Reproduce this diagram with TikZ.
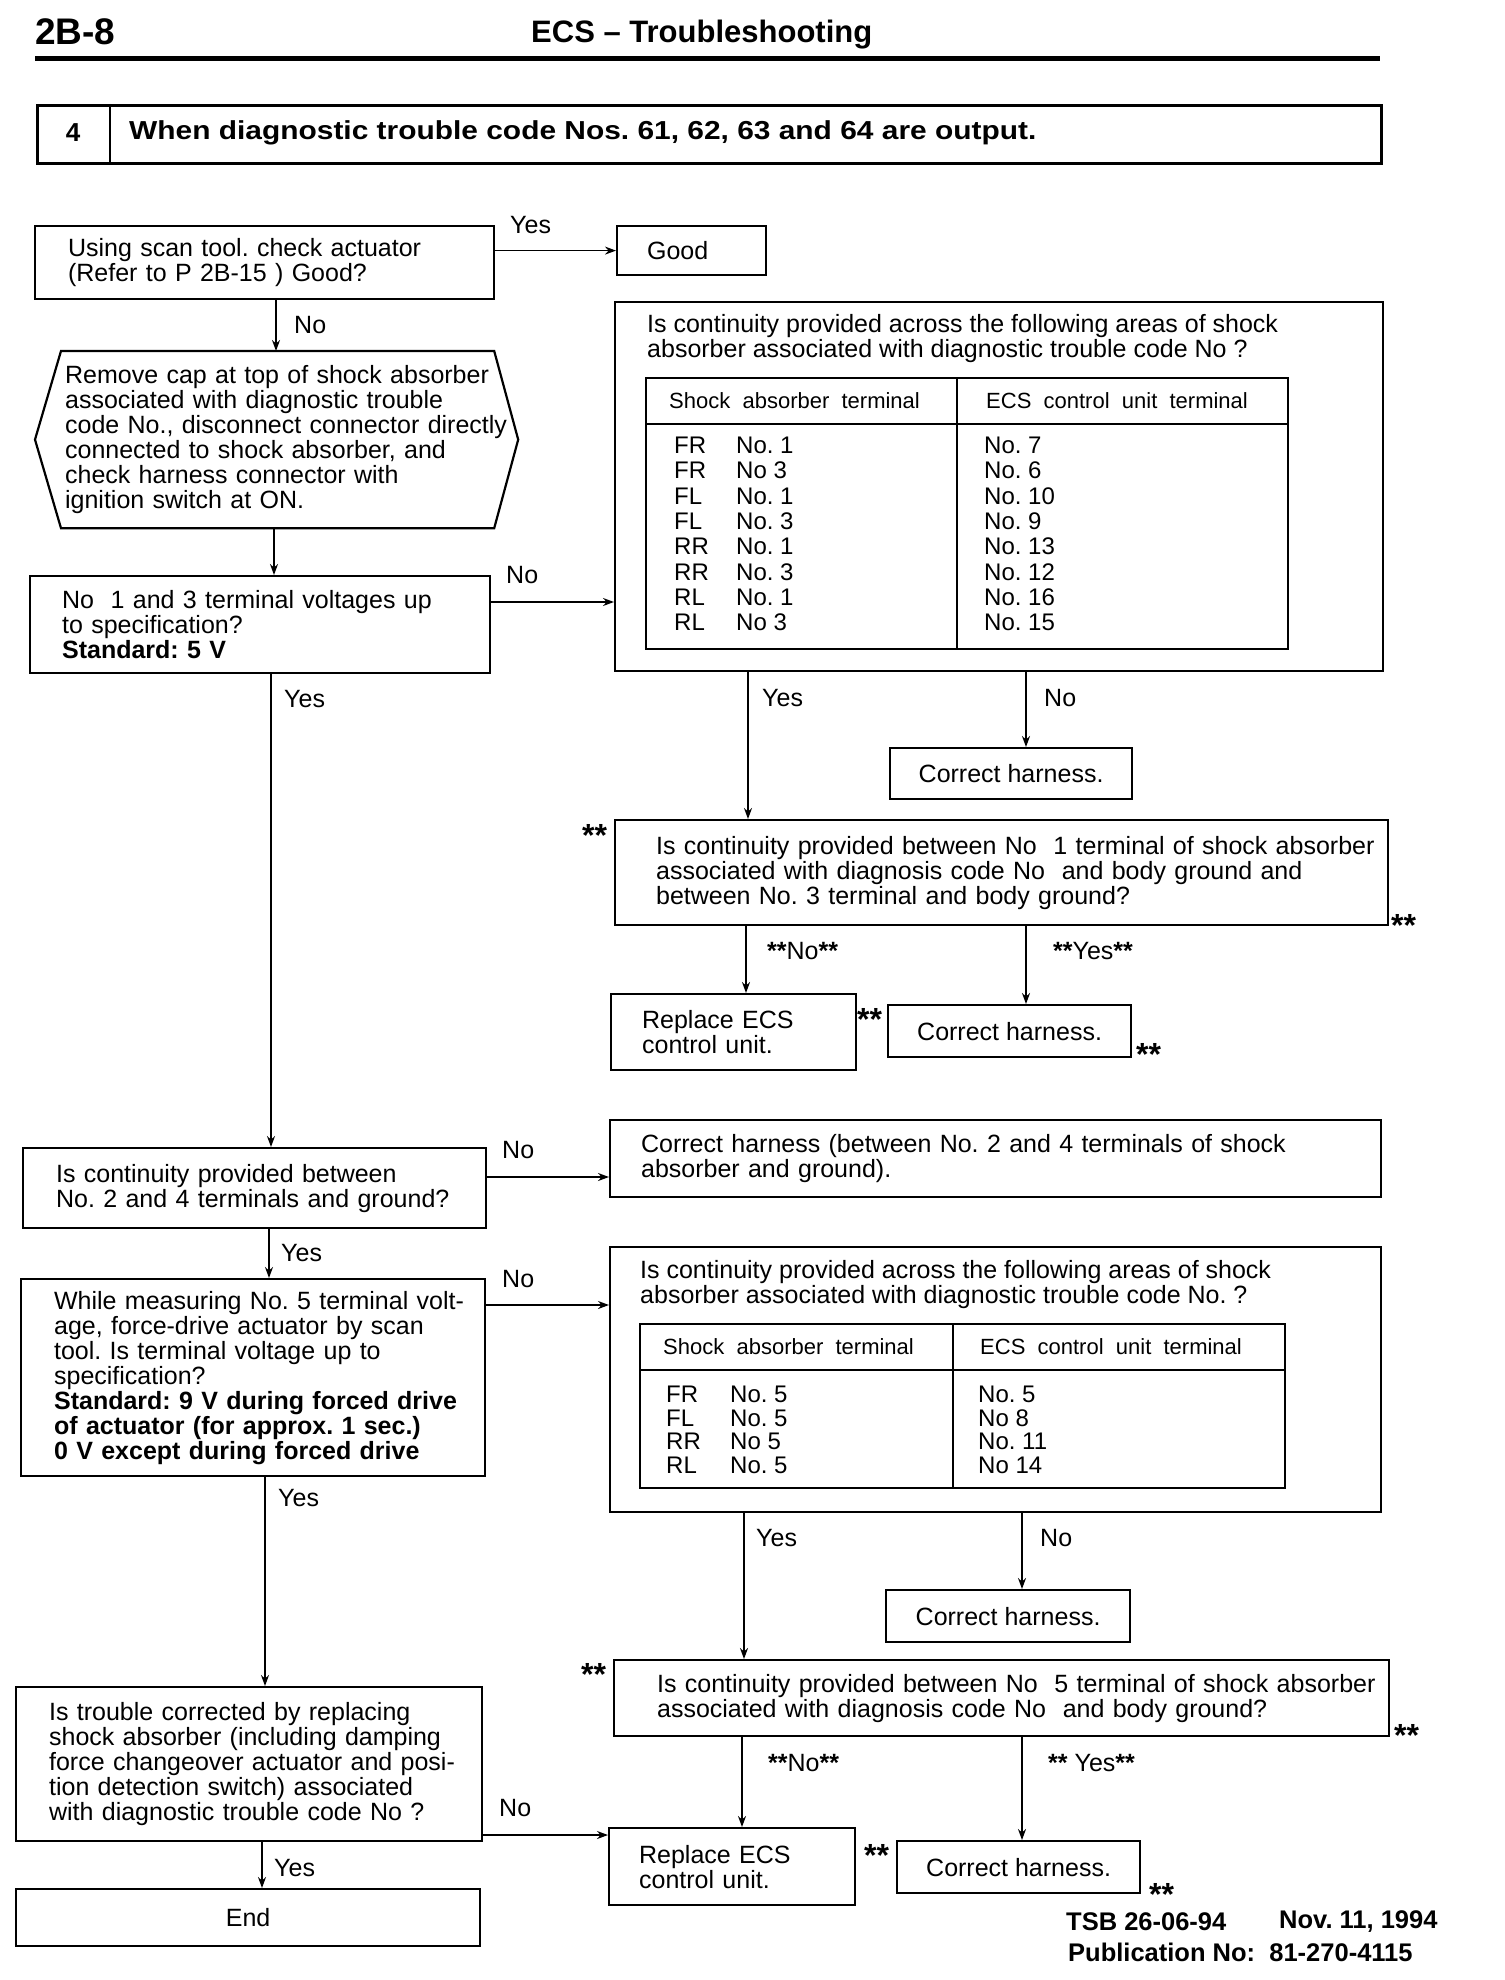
\documentclass[tikz,border=0pt]{standalone}
\usepackage{fontspec}
\setmainfont{Liberation Sans}
\usepackage{graphicx}
\usetikzlibrary{arrows.meta}
\frenchspacing

\newcommand{\bodyfont}{\fontsize{25}{25}\selectfont\lineskiplimit=-50pt\relax}
\newcommand{\colfont}{\fontsize{22}{22}\selectfont}
\newcommand{\rowfont}{\fontsize{24}{25.3}\selectfont}
\newcommand{\rowfontb}{\fontsize{24}{23.3}\selectfont}
\newcommand{\footfont}{\fontsize{25.5}{25.5}\selectfont\bfseries}

\tikzset{
  box/.style={draw, line width=2.2pt, anchor=north west, align=left, inner ysep=0pt, font=\bodyfont},
  cbox/.style={draw, line width=2.2pt, anchor=north west, inner sep=0pt, font=\bodyfont},
  tabframe/.style={draw, line width=2.2pt, anchor=north west, inner sep=0pt},
  tabrule/.style={line width=2.2pt},
  lbl/.style={anchor=west, inner sep=0pt, font=\bodyfont},
  stars/.style={anchor=west, inner sep=0pt, font=\fontsize{32}{32}\selectfont\bfseries},
  arr/.style={->, line width=1.6pt},
  >={Stealth[length=11pt, width=8pt]},
}

\begin{document}
\begin{tikzpicture}[x=1pt, y=-1pt]
\useasboundingbox (0,0) rectangle (1504,1980);

% Page head.
\node[anchor=west, inner sep=0pt, font=\fontsize{37}{37}\selectfont\bfseries] (page) at (35,32) {2B-8};
\node[anchor=west, inner sep=0pt, font=\fontsize{31}{31}\selectfont\bfseries] (title) at (531,35) {ECS – Troubleshooting};
\draw[line width=5pt] (35,59) -- (1380,59);

\node[tabframe, line width=2.8pt, minimum width=1344pt, minimum height=58pt] (task) at (36,104) {};
\draw[line width=2.8pt] (task.north west) ++(74,0) -- ++(0,58);
\node[inner sep=0pt, font=\fontsize{26}{26}\selectfont\bfseries] (tasknum) at (73,133) {4};
\node[anchor=west, inner sep=0pt, font=\fontsize{26}{26}\selectfont\bfseries] (tasktext) at (129,133) {\scalebox{1.15}[1]{When diagnostic trouble code Nos. 61, 62, 63 and 64 are output.}};

% Left column.
\node[box, minimum width=459pt, minimum height=73pt, inner xsep=33pt, text width=393pt] (scan) at (34,225) {Using scan tool. check actuator\\(Refer to P 2B-15 ) Good?};
\node[box, minimum width=149pt, minimum height=49pt, inner xsep=30pt, text width=89pt] (good) at (616,225) {Good};

\node[box, draw=none, minimum width=431pt, minimum height=175pt, inner xsep=3pt, text width=425pt] (remove) at (61,351) {Remove cap at top of shock absorber\\associated with diagnostic trouble\\\mbox{code No., disconnect connector directly}\\connected to shock absorber, and\\check harness connector with\\ignition switch at ON.};
\draw[tabrule] (remove.north west) -- (remove.north east) -- ([xshift=24pt]remove.east) -- (remove.south east) -- (remove.south west) -- ([xshift=-26pt]remove.west) -- cycle;

\node[box, minimum width=460pt, minimum height=97pt, inner xsep=32pt, text width=396pt] (volt) at (29,575) {No~~1 and 3 terminal voltages up\\to specification?\\\textbf{Standard: 5 V}};

\node[box, minimum width=463pt, minimum height=80pt, inner xsep=33pt, text width=397pt] (earth) at (22,1147) {Is continuity provided between\\\mbox{No. 2 and 4 terminals and ground?}};

\node[box, minimum width=464pt, minimum height=197pt, inner xsep=33pt, text width=398pt] (drive) at (20,1278) {\mbox{While measuring No. 5 terminal volt-}\\age, force-drive actuator by scan\\tool. Is terminal voltage up to\\specification?\\\textbf{\mbox{Standard: 9 V during forced drive}}\\\textbf{of actuator (for approx. 1 sec.)}\\\textbf{0 V except during forced drive}};

\node[box, minimum width=466pt, minimum height=154pt, inner xsep=33pt, text width=400pt] (replace) at (15,1686) {Is trouble corrected by replacing\\shock absorber (including damping\\\mbox{force changeover actuator and posi-}\\tion detection switch) associated\\with diagnostic trouble code No ?};
\node[cbox, minimum width=464pt, minimum height=57pt] (done) at (15,1888) {End};

% First continuity table.
\node[tabframe, minimum width=768pt, minimum height=369pt] (cont) at (614,301) {};
\node[lbl, align=left] (contq) at (647,339) {Is continuity provided across the following areas of shock\\absorber associated with diagnostic trouble code No ?};
\node[tabframe, minimum width=642pt, minimum height=271pt] (taba) at (645,377) {};
\draw[tabrule] (taba.north west) ++(0,47) -- ++(642,0);
\draw[tabrule] (taba.north west) ++(312,0) -- ++(0,271);
\node[anchor=west, inner sep=0pt, font=\colfont] (tabahl) at (669,401) {Shock\ \ absorber\ \ terminal};
\node[anchor=west, inner sep=0pt, font=\colfont] (tabahr) at (986,401) {ECS\ \ control\ \ unit\ \ terminal};
\node[anchor=west, inner sep=0pt, font=\rowfont] (tabal) at (674,537) {\begin{tabular}{@{}p{62pt}@{}l@{}}
FR & No. 1\\ FR & No 3\\ FL & No. 1\\ FL & No. 3\\ RR & No. 1\\ RR & No. 3\\ RL & No. 1\\ RL & No 3
\end{tabular}};
\node[anchor=west, inner sep=0pt, font=\rowfont] (tabar) at (984,537) {\begin{tabular}{@{}l@{}}
No. 7\\ No. 6\\ No. 10\\ No. 9\\ No. 13\\ No. 12\\ No. 16\\ No. 15
\end{tabular}};

\node[cbox, minimum width=242pt, minimum height=51pt] (harna) at (889,747) {Correct harness.};
\node[box, minimum width=773pt, minimum height=105pt, inner xsep=41pt, text width=691pt] (gnda) at (614,819) {\mbox{Is continuity provided between No~~1 terminal of shock absorber}\\associated with diagnosis code No~~and body ground and\\between No. 3 terminal and body ground?};
\node[box, minimum width=245pt, minimum height=76pt, inner xsep=31pt, text width=183pt] (ecsa) at (610,993) {Replace ECS\\control unit.};
\node[cbox, minimum width=243pt, minimum height=52pt] (harnb) at (887,1004) {Correct harness.};

\node[box, minimum width=771pt, minimum height=77pt, inner xsep=31pt, text width=709pt] (harnc) at (609,1119) {Correct harness (between No. 2 and 4 terminals of shock\\absorber and ground).};

% Second continuity table.
\node[tabframe, minimum width=771pt, minimum height=265pt] (contb) at (609,1246) {};
\node[lbl, align=left] (contbq) at (640,1285) {Is continuity provided across the following areas of shock\\absorber associated with diagnostic trouble code No. ?};
\node[tabframe, minimum width=645pt, minimum height=164pt] (tabb) at (639,1323) {};
\draw[tabrule] (tabb.north west) ++(0,47) -- ++(645,0);
\draw[tabrule] (tabb.north west) ++(314,0) -- ++(0,164);
\node[anchor=west, inner sep=0pt, font=\colfont] (tabbhl) at (663,1347) {Shock\ \ absorber\ \ terminal};
\node[anchor=west, inner sep=0pt, font=\colfont] (tabbhr) at (980,1347) {ECS\ \ control\ \ unit\ \ terminal};
\node[anchor=west, inner sep=0pt, font=\rowfontb] (tabbl) at (666,1433) {\begin{tabular}{@{}p{64pt}@{}l@{}}
FR & No. 5\\ FL & No. 5\\ RR & No 5\\ RL & No. 5
\end{tabular}};
\node[anchor=west, inner sep=0pt, font=\rowfontb] (tabbr) at (978,1433) {\begin{tabular}{@{}l@{}}
No. 5\\ No 8\\ No. 11\\ No 14
\end{tabular}};

\node[cbox, minimum width=244pt, minimum height=52pt] (harnd) at (885,1589) {Correct harness.};
\node[box, minimum width=775pt, minimum height=76pt, inner xsep=43pt, text width=689pt] (gndb) at (613,1659) {\mbox{Is continuity provided between No~~5 terminal of shock absorber}\\associated with diagnosis code No~~and body ground?};
\node[box, minimum width=246pt, minimum height=77pt, inner xsep=30pt, text width=186pt] (ecsb) at (608,1827) {Replace ECS\\control unit.};
\node[cbox, minimum width=243pt, minimum height=52pt] (harne) at (896,1840) {Correct harness.};

% Connectors.
\coordinate (t1) at (276,0);
\coordinate (t2) at (274,0);
\coordinate (t3) at (271,0);
\coordinate (t4) at (269,0);
\coordinate (t5) at (265,0);
\coordinate (t6) at (262,0);
\coordinate (h1) at (0,602);
\coordinate (h2) at (0,1177);
\coordinate (h3) at (0,1305);
\coordinate (h4) at (0,1835);
\coordinate (v1) at (748,0);
\coordinate (v2) at (1026,0);
\coordinate (v3) at (746,0);
\coordinate (v4) at (744,0);
\coordinate (v5) at (1022,0);
\coordinate (v6) at (742,0);

\draw[arr] (scan.east |- good.west) -- (good.west);
\draw[arr] (t1 |- scan.south) -- (t1 |- remove.north);
\draw[arr] (t2 |- remove.south) -- (t2 |- volt.north);
\draw[arr] (t3 |- volt.south) -- (t3 |- earth.north);
\draw[arr] (t4 |- earth.south) -- (t4 |- drive.north);
\draw[arr] (t5 |- drive.south) -- (t5 |- replace.north);
\draw[arr] (t6 |- replace.south) -- (t6 |- done.north);

\draw[arr] (volt.east |- h1) -- (cont.west |- h1);
\draw[arr] (earth.east |- h2) -- (harnc.west |- h2);
\draw[arr] (drive.east |- h3) -- (contb.west |- h3);
\draw[arr] (replace.east |- h4) -- (ecsb.west |- h4);

\draw[arr] (v1 |- cont.south) -- (v1 |- gnda.north);
\draw[arr] (v2 |- cont.south) -- (v2 |- harna.north);
\draw[arr] (v3 |- gnda.south) -- (v3 |- ecsa.north);
\draw[arr] (v2 |- gnda.south) -- (v2 |- harnb.north);
\draw[arr] (v4 |- contb.south) -- (v4 |- gndb.north);
\draw[arr] (v5 |- contb.south) -- (v5 |- harnd.north);
\draw[arr] (v6 |- gndb.south) -- (v6 |- ecsb.north);
\draw[arr] (v5 |- gndb.south) -- (v5 |- harne.north);

% Branch labels.
\node[lbl] (ygood) at (510,225) {Yes};
\node[lbl] (nscan) at (294,325) {No};
\node[lbl] (nvolt) at (506,575) {No};
\node[lbl] (yvolt) at (284,699) {Yes};
\node[lbl] (ycont) at (762,698) {Yes};
\node[lbl] (ncont) at (1044,698) {No};
\node[lbl] (ngnda) at (767,951) {\textbf{**}No\textbf{**}};
\node[lbl] (ygnda) at (1053,951) {\textbf{**}Yes\textbf{**}};
\node[lbl] (nearth) at (502,1150) {No};
\node[lbl] (yearth) at (281,1253) {Yes};
\node[lbl] (ndrive) at (502,1279) {No};
\node[lbl] (ydrive) at (278,1498) {Yes};
\node[lbl] (ycontb) at (756,1538) {Yes};
\node[lbl] (ncontb) at (1040,1538) {No};
\node[lbl] (ngndb) at (768,1763) {\textbf{**}No\textbf{**}};
\node[lbl] (ygndb) at (1048,1763) {\textbf{**} Yes\textbf{**}};
\node[lbl] (nrepl) at (499,1808) {No};
\node[lbl] (yrepl) at (274,1868) {Yes};

% Star marks.
\node[stars] (sa) at (582,835) {**};
\node[stars] (sb) at (1391,925) {**};
\node[stars] (sc) at (857,1019) {**};
\node[stars] (sd) at (1136,1054) {**};
\node[stars] (se) at (581,1674) {**};
\node[stars] (sf) at (1394,1735) {**};
\node[stars] (sg) at (864,1855) {**};
\node[stars] (sh) at (1149,1894) {**};

% Foot.
\node[anchor=west, inner sep=0pt, font=\footfont] (tsb) at (1066,1922) {TSB 26-06-94};
\node[anchor=west, inner sep=0pt, font=\footfont] (date) at (1279,1922) {Nov. 11, 1994};
\node[anchor=west, inner sep=0pt, font=\footfont] (pub) at (1068,1952) {Publication No:~~81-270-4115};

\end{tikzpicture}
\end{document}
